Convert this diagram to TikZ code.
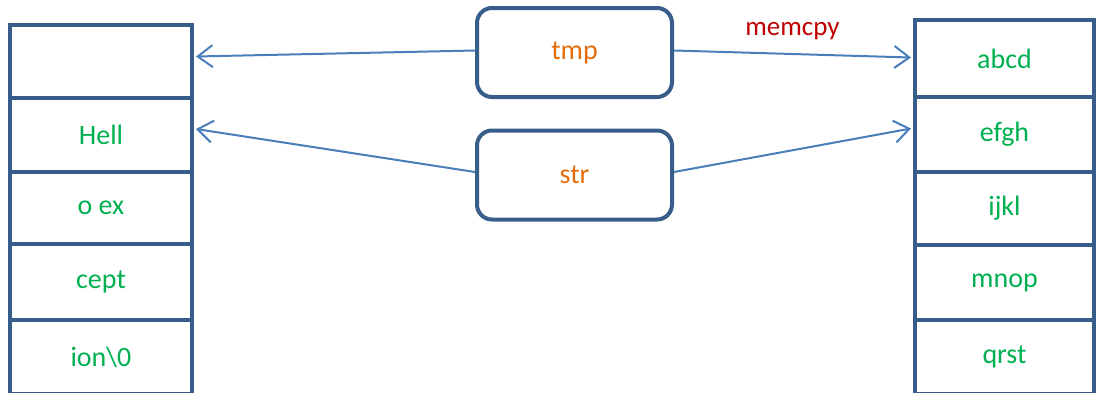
\documentclass[tikz,border=0pt]{standalone}
\usepackage{fontspec}
\setmainfont{Carlito}
\usetikzlibrary{arrows.meta}
\definecolor{boxline}{HTML}{385D8A}
\definecolor{arrowc}{HTML}{4A7EBB}
\definecolor{txtgreen}{HTML}{00B050}
\definecolor{txtorange}{HTML}{E46C0A}
\definecolor{txtred}{HTML}{C00000}
\tikzset{
  cell/.style={draw=boxline, line width=4pt, rectangle, inner sep=0pt,
    font=\fontsize{28}{32}\selectfont, text=txtgreen},
  var/.style={draw=boxline, line width=4pt, rectangle, rounded corners=15pt, inner sep=0pt,
    minimum width=195pt, minimum height=89pt, font=\fontsize{28}{32}\selectfont, text=txtorange},
  ptr/.style={draw=arrowc, line width=2pt, -{Straight Barb[length=15pt,width=22pt,line width=2pt]}},
}
\begin{document}
\begin{tikzpicture}[x=1pt,y=-1pt]
\useasboundingbox (0,0) rectangle (1096,392);
\clip (0,0) rectangle (1096,392);
% left column
\node[cell, minimum width=182pt, minimum height=73pt] (L1) at (101,61.5) {};
\node[cell, minimum width=182pt, minimum height=74pt] (L2) at (101,135) {Hell};
\node[cell, minimum width=182pt, minimum height=72pt] (L3) at (101,208) {o ex};
\node[cell, minimum width=182pt, minimum height=76pt] (L4) at (101,282) {cept};
\node[cell, minimum width=182pt, minimum height=74pt] (L5) at (101,357) {ion\textbackslash 0};
% right column
\node[cell, minimum width=179pt, minimum height=77pt] (R1) at (1004.5,58.5) {abcd};
\node[cell, minimum width=179pt, minimum height=75pt] (R2) at (1004.5,134.5) {efgh};
\node[cell, minimum width=179pt, minimum height=73pt] (R3) at (1004.5,208.5) {ijkl};
\node[cell, minimum width=179pt, minimum height=75pt] (R4) at (1004.5,282.5) {mnop};
\node[cell, minimum width=179pt, minimum height=74pt] (R5) at (1004.5,357) {qrst};
% middle
\node[var] (tmp) at (574.5,52.5) {tmp};
\node[var] (str) at (574.5,175) {str};
% connectors
\draw[ptr] ([yshift=2pt]tmp.west) -- ([xshift=2pt,yshift=5pt]L1.east);
\draw[ptr] ([yshift=2pt]tmp.east) -- node[midway, above=10pt, text=txtred, font=\fontsize{27}{30}\selectfont] (lbl) {memcpy} ([xshift=-2pt,yshift=1pt]R1.west);
\draw[ptr] ([yshift=3pt]str.west) -- ([xshift=2pt,yshift=6pt]L2.east);
\draw[ptr] ([yshift=3pt]str.east) -- ([xshift=-2pt,yshift=6pt]R2.west);
\end{tikzpicture}
\end{document}
